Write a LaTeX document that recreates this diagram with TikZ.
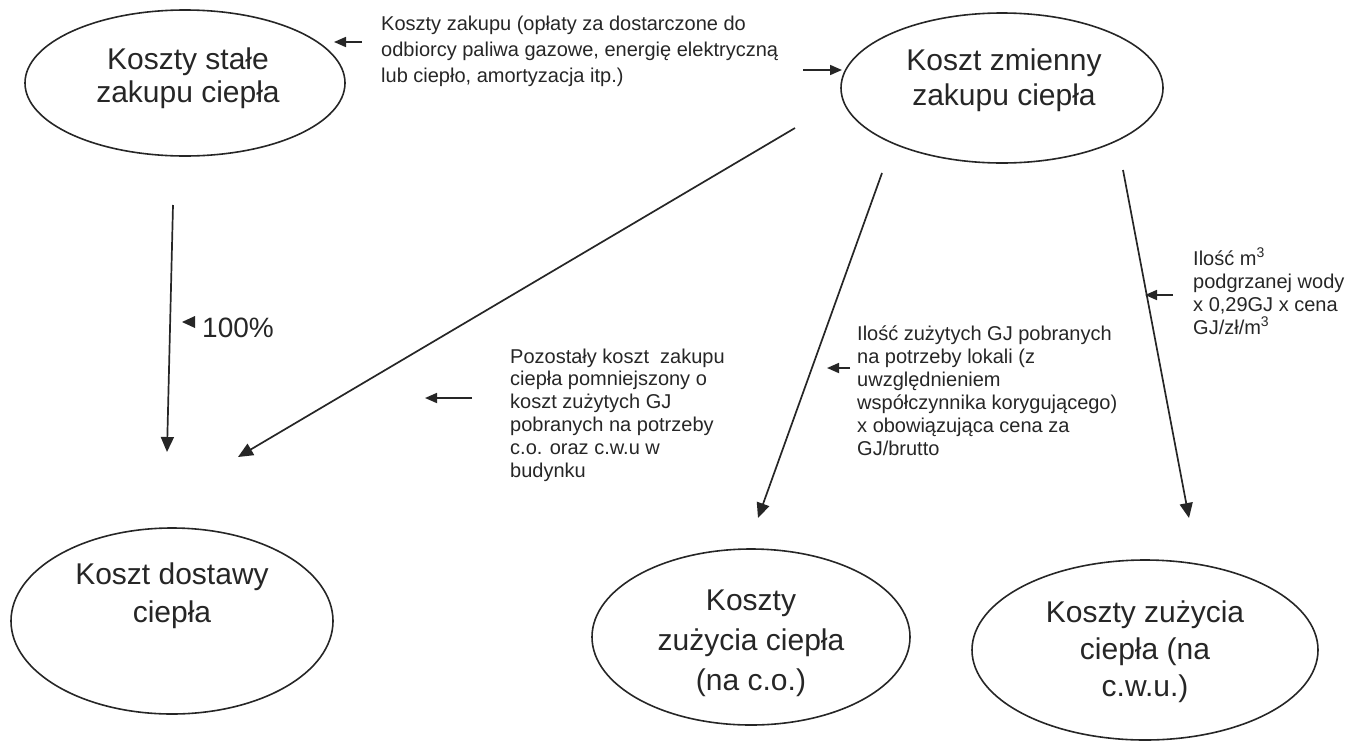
\documentclass[tikz,border=0pt]{standalone}
\usepackage{fontspec}
\setmainfont{Liberation Sans}
\usetikzlibrary{arrows.meta,shapes.geometric}
\definecolor{ink}{HTML}{262626}
\tikzset{
  ell/.style={draw=ink, line width=1.6pt, ellipse, inner sep=0pt},
  bigtxt/.style={text=ink, align=center, font=\fontsize{30}{37}\selectfont, inner sep=0pt},
  smalltxt/.style={text=ink, align=left, inner sep=0pt, anchor=west},
  conn/.style={draw=ink, line width=1.7pt, -{Triangle[length=15pt,width=13pt]}},
  tick/.style={draw=ink, line width=1.7pt, -{Triangle[length=12pt,width=10pt]}}
}
\begin{document}
\begin{tikzpicture}[x=1pt,y=-1pt]
\useasboundingbox (0,0) rectangle (1364,742);
% ellipses
\node[ell, minimum width=320pt, minimum height=146pt,
  label={[bigtxt, xshift=3pt, yshift=5pt, font=\fontsize{30}{33}\selectfont]center:Koszty stałe\\zakupu ciepła}] (stale) at (185,83) {};
\node[ell, minimum width=322pt, minimum height=150pt,
  label={[bigtxt, xshift=2pt, yshift=8pt, font=\fontsize{30}{35}\selectfont]center:Koszt zmienny\\zakupu ciepła}] (zmienny) at (1002,88) {};
\node[ell, minimum width=322pt, minimum height=186pt,
  label={[bigtxt, yshift=25pt, font=\fontsize{30}{38}\selectfont]center:Koszt dostawy\\ciepła}] (dostawy) at (172,621) {};
\node[ell, minimum width=318pt, minimum height=176pt,
  label={[bigtxt, yshift=-6pt, font=\fontsize{30}{40}\selectfont]center:Koszty\\zużycia ciepła\\(na c.o.)}] (co) at (751,637) {};
\node[ell, minimum width=346pt, minimum height=180pt,
  label={[bigtxt, yshift=-2pt]center:Koszty zużycia\\ciepła (na\\c.w.u.)}] (cwu) at (1145,650) {};
% text blocks
\node[smalltxt, font=\fontsize{20}{26}\selectfont] (tz) at (381,51) {Koszty zakupu (opłaty za dostarczone do\\odbiorcy paliwa gazowe, energię elektryczną\\lub ciepło, amortyzacja itp.)};
\node[smalltxt, font=\fontsize{20}{22.8}\selectfont] (tp) at (510,415) {Pozostały koszt\ \ zakupu\\ciepła pomniejszony o\\koszt zużytych GJ\\pobranych na potrzeby\\c.o. oraz c.w.u w\\budynku};
\node[smalltxt, font=\fontsize{20}{23}\selectfont] (ti) at (857,391) {Ilość zużytych GJ pobranych\\na potrzeby lokali (z\\uwzględnieniem\\współczynnika korygującego)\\x obowiązująca cena za\\GJ/brutto};
\node[smalltxt, font=\fontsize{20}{23}\selectfont] (tm) at (1193,291) {Ilość m\textsuperscript{3}\\podgrzanej wody\\x 0,29GJ x cena\\GJ/zł/m\textsuperscript{3}};
\node[smalltxt, font=\fontsize{28}{32}\selectfont] (tpct) at (202,328) {100\%};
% connector end points
\coordinate (a1) at (173,205); \coordinate (a2) at (167,452);
\coordinate (b1) at (795,128); \coordinate (b2) at (238,457);
\coordinate (c1) at (882,173); \coordinate (c2) at (758,518);
\coordinate (d1) at (1123,170); \coordinate (d2) at (1189,518);
\draw[conn] (a1) -- (a2);
\draw[conn] (b1) -- (b2);
\draw[conn] (c1) -- (c2);
\draw[conn] (d1) -- (d2);
% small arrows
\coordinate (s1a) at (362,42); \coordinate (s1b) at (334,42);
\coordinate (s2a) at (803,70); \coordinate (s2b) at (842,70);
\coordinate (s3a) at (472,398); \coordinate (s3b) at (425,398);
\coordinate (s4a) at (850,368); \coordinate (s4b) at (827,368);
\coordinate (s5a) at (1173,295); \coordinate (s5b) at (1145,295);
\draw[tick] (s1a) -- (s1b);
\draw[tick] (s2a) -- (s2b);
\draw[tick] (s3a) -- (s3b);
\draw[tick] (s4a) -- (s4b);
\draw[tick] (s5a) -- (s5b);
\fill[ink] (182,322) -- (195,316) -- (195,328) -- cycle;
\end{tikzpicture}
\end{document}
